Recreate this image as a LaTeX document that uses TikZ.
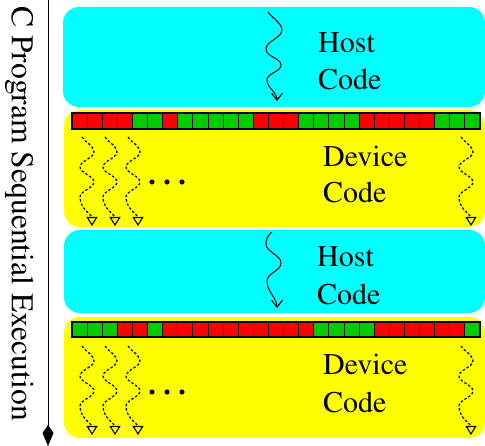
\documentclass[tikz,border=0pt]{standalone}
\usepackage[T1]{fontenc}
\usepackage{mathptmx}
\usetikzlibrary{arrows.meta}
\definecolor{hostcyan}{RGB}{0,255,255}
\definecolor{devyellow}{RGB}{255,255,0}
\definecolor{cellR}{RGB}{255,0,0}
\definecolor{cellG}{RGB}{0,204,0}

\begin{document}
\begin{tikzpicture}[x=1pt,y=-1pt,
  hostbox/.style={fill=hostcyan, rounded corners=16pt},
  devbox/.style={fill=devyellow, rounded corners=16pt},
  codetext/.style={inner sep=0pt, anchor=base west, font=\fontsize{30}{36}\selectfont},
  cell/.style={draw=black, line width=0.9pt},
  barframe/.style={draw=black, line width=1.5pt},
  warp/.style={line width=1.2pt, dash pattern=on 2.5pt off 2pt,
    -{Triangle[open,length=9pt,width=11pt,line width=1.1pt]}},
  hostthread/.style={line width=1pt, -{Straight Barb[length=7pt,width=11pt,line width=1.1pt]}},
  devwave/.pic={\draw[warp] (0,0) .. controls (3,5) and (12,9) .. (12,15)
      .. controls (12,21) and (-2,24) .. (-2,30)
      .. controls (-2,36) and (12,39) .. (12,45)
      .. controls (12,51) and (-2,54) .. (-2,60)
      .. controls (-2,72) and (10,78) .. (10,89);},
  dots/.pic={\fill (0,0) circle[radius=2.6pt] (15,0) circle[radius=2.6pt] (30,0) circle[radius=2.6pt];}
  ]

\useasboundingbox (0,0) rectangle (485,446);

% time axis
\coordinate (tstart) at (48,0);
\coordinate (tend) at (48,446);
\draw[line width=1pt, -{Kite[length=21pt,width=11pt,inset=8pt]}] (tstart) -- (tend);
\node[inner sep=0pt, anchor=base west, rotate=-90, font=\fontsize{31.6}{36}\selectfont]
  (seqlabel) at (12,6) {C Program Sequential Execution};

% host / device phases
\fill[hostbox] (63,7) rectangle (485,107);
\fill[devbox] (64,110) rectangle (485,227);
\fill[hostbox] (64,230) rectangle (485,313);
\fill[devbox] (64,317) rectangle (485,438);

% block grids
\foreach \c [count=\i from 0] in {R,R,R,R,G,G,R,G,G,G,G,G,R,R,R,G,G,G,G,R,R,R,R,R,G,G,G}
  \filldraw[cell, fill=cell\c] ({72+\i*408/27},113) rectangle ({72+(\i+1)*408/27},129);
\draw[barframe] (72,113) rectangle (480,129);

\foreach \c [count=\i from 0] in {G,G,G,R,R,G,R,R,R,R,R,R,R,R,R,R,G,G,G,G,R,R,R,R,R,R,G}
  \filldraw[cell, fill=cell\c] ({72+\i*408/27},322) rectangle ({72+(\i+1)*408/27},337);
\draw[barframe] (72,322) rectangle (480,337);

% host threads
\draw[hostthread] (268,12) .. controls (272,18) and (282,23) .. (282,30)
  .. controls (282,38) and (266,41) .. (266,49)
  .. controls (266,57) and (281,58) .. (281,65)
  .. controls (281,72) and (267,73) .. (267,80)
  .. controls (267,88) and (277,92) .. (277,101);
\draw[hostthread] (272,232) .. controls (268,235) and (266,239) .. (266,244)
  .. controls (266,252) and (281,255) .. (281,263)
  .. controls (281,271) and (267,273) .. (267,281)
  .. controls (267,292) and (277,298) .. (277,308);

% device threads
\foreach \y in {137,346} {
  \pic at (82,\y) {devwave};
  \pic at (105,\y) {devwave};
  \pic at (128,\y) {devwave};
  \pic at (461,\y) {devwave};
}
\pic at (152,182) {dots};
\pic at (152,392) {dots};

% labels
\node[codetext] (h1a) at (318,53) {Host};
\node[codetext] (h1b) at (318,90) {Code};
\node[codetext] (d1a) at (323,167) {Device};
\node[codetext] (d1b) at (323,203) {Code};
\node[codetext] (h2a) at (317,267) {Host};
\node[codetext] (h2b) at (317,305) {Code};
\node[codetext] (d2a) at (323,375) {Device};
\node[codetext] (d2b) at (323,413) {Code};
\end{tikzpicture}
\end{document}
